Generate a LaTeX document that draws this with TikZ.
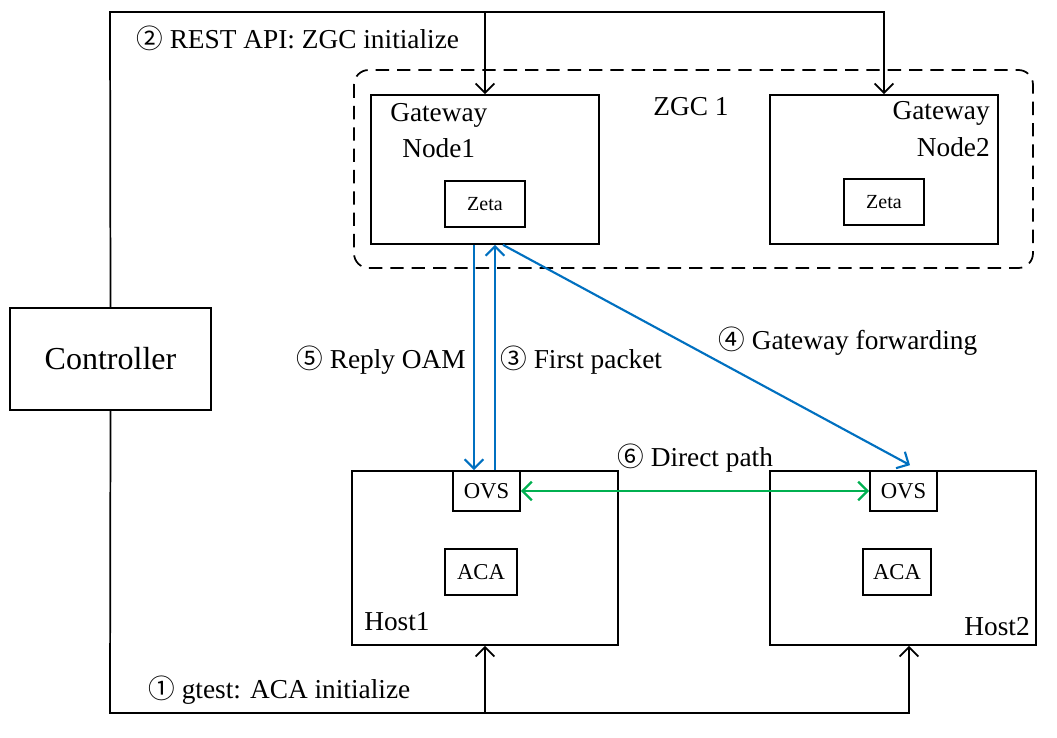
\documentclass[tikz,border=0pt]{standalone}
\usepackage{fontspec}
\setmainfont{Liberation Serif}
\newfontfamily\cnum{Noto Sans CJK SC}
\usetikzlibrary{arrows.meta,calc}
\definecolor{oblue}{RGB}{0,112,192}
\definecolor{ogreen}{RGB}{0,176,80}
\newcommand\cn[1]{{\cnum\fontsize{20}{24}\selectfont #1}}
\begin{document}
\begin{tikzpicture}[x=0.75pt,y=-0.75pt,
  box/.style={draw,line width=1.3pt,inner sep=0pt},
  txt/.style={inner sep=0pt,font=\fontsize{20.5}{24}\selectfont},
  small/.style={font=\fontsize{17}{20}\selectfont},
  tiny/.style={font=\fontsize{15}{18}\selectfont},
  conn/.style={line width=1.3pt,-{Straight Barb[length=7pt,width=14pt,line width=1.3pt]}},
  bconn/.style={line width=1.6pt,draw=oblue,-{Straight Barb[length=7pt,width=14pt,line width=1.6pt]}},
  gconn/.style={line width=1.7pt,draw=ogreen,{Straight Barb[length=7pt,width=14pt,line width=1.7pt]}-{Straight Barb[length=7pt,width=14pt,line width=1.7pt]}}
]
\useasboundingbox (0,0) rectangle (1057,738);

% ZGC dashed container
\draw[line width=1.3pt,dash pattern=on 10pt off 6pt,rounded corners=11pt] (354,70) rectangle (1033,268);
\node[txt] (zgc) at (691,107) {ZGC 1};

% boxes
\node[box,minimum width=150.75pt,minimum height=76.5pt,font=\fontsize{24}{28}\selectfont] (ctrl) at (110.5,359) {Controller};
\node[box,minimum width=171pt,minimum height=111.75pt] (gw1) at (485,169.5) {};
\node[box,minimum width=171pt,minimum height=111.75pt] (gw2) at (884,169.5) {};
\node[box,tiny,minimum width=60pt,minimum height=34.5pt] (zeta1) at (485,204) {Zeta};
\node[box,tiny,minimum width=60pt,minimum height=34.5pt] (zeta2) at (884,202) {Zeta};
\node[box,minimum width=199.5pt,minimum height=130.5pt] (host1) at (485,558) {};
\node[box,minimum width=199.5pt,minimum height=130.5pt] (host2) at (903,558) {};
\node[box,small,minimum width=50.25pt,minimum height=30pt,fill=white] (ovs1) at (486.5,491) {OVS};
\node[box,small,minimum width=50.25pt,minimum height=30pt,fill=white] (ovs2) at (903.5,491) {OVS};
\node[box,small,minimum width=54pt,minimum height=34.5pt] (aca1) at (481,572) {ACA};
\node[box,small,minimum width=51pt,minimum height=34.5pt] (aca2) at (897,572) {ACA};

% box labels
\node[txt,anchor=west] (gw1a) at (390,115) {Gateway};
\node[txt,anchor=west] (gw1b) at (402,148) {Node1};
\node[txt,anchor=east] (gw2a) at (990,113) {Gateway};
\node[txt,anchor=east] (gw2b) at (990,147) {Node2};
\node[txt,anchor=west] (h1) at (364,622) {Host1};
\node[txt,anchor=east] (h2) at (1030,627) {Host2};

% controller connectors
\coordinate (tl) at (110,12);
\coordinate (tr) at (884,12);
\coordinate (bl) at (110,713);
\coordinate (br) at (909,713);
\draw[conn] (ctrl.north) -- (tl) -- (tr) -- (gw2.north);
\draw[conn] (gw1.north |- tl) -- (gw1.north);
\draw[conn] (ctrl.south) -- (bl) -- (br) -- (br |- host2.south);
\draw[conn] (host1.south |- bl) -- (host1.south);

% blue connectors
\coordinate (d1) at ($(gw1.south)+(-11,0)$);
\coordinate (u1) at ($(gw1.south)+(10,0)$);
\coordinate (f1) at ($(gw1.south)+(18,0)$);
\coordinate (f2) at ($(ovs2.north)+(6.5,-5)$);
\draw[bconn] (d1) -- (d1 |- ovs1.north);
\draw[bconn] (u1 |- ovs1.north) -- (u1);
\draw[bconn] (f1) -- (f2);

% green
\draw[gconn] (ovs1.east) -- (ovs2.west);

% labels
\node[txt,anchor=west] (l2) at (136,38) {\cn{②} REST API: ZGC initialize};
\node[txt,anchor=east] (l5) at (466,360) {\cn{⑤} Reply OAM};
\node[txt,anchor=west] (l3) at (500,360) {\cn{③} First packet};
\node[txt,anchor=west] (l4) at (718,341) {\cn{④} Gateway forwarding};
\node[txt,anchor=west] (l6) at (617,458) {\cn{⑥} Direct path};
\node[txt,anchor=west] (l1) at (148,690) {\cn{①} gtest: ACA initialize};
\end{tikzpicture}
\end{document}
